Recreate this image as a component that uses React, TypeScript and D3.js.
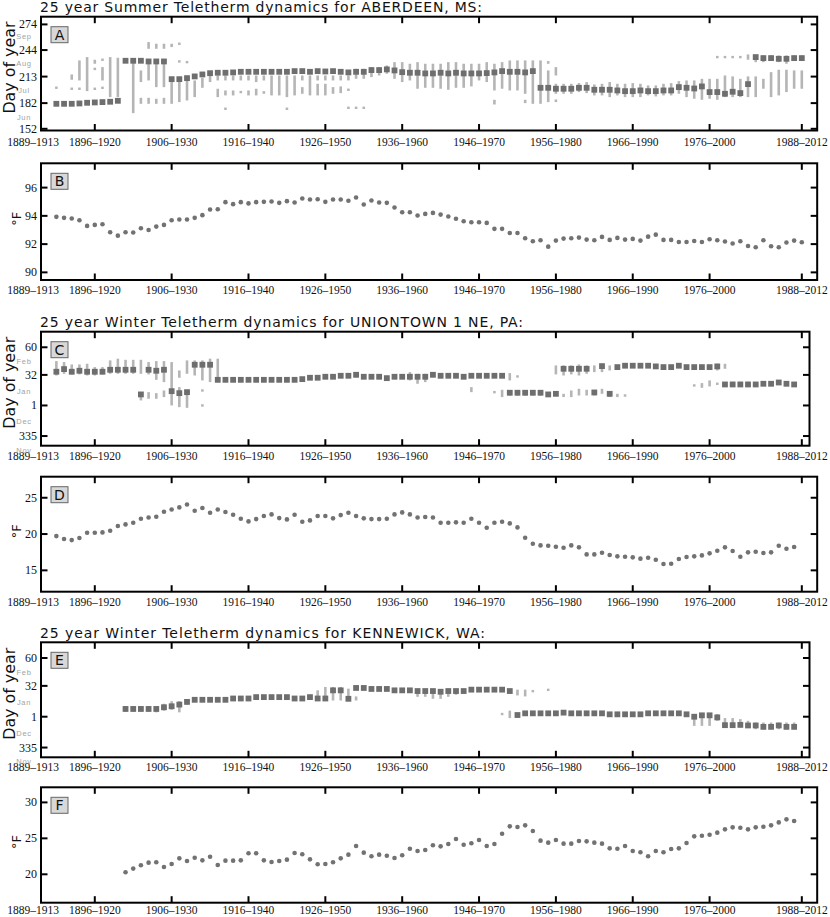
import React from "react";
import * as d3 from "d3";

// ---------- axis categories ----------
const X_START = 1889;
const X_TICK_STARTS = [1889, 1896, 1906, 1916, 1926, 1936, 1946, 1956, 1966, 1976, 1988];
const X_TICK_LABELS = ["1889–1913", "1896–1920", "1906–1930", "1916–1940", "1926–1950", "1936–1960", "1946–1970", "1956–1980", "1966–1990", "1976–2000", "1988–2012"];

const SUMMER_TICKS = [152, 182, 213, 244, 274];
const SUMMER_TICK_LABELS = ["152", "182", "213", "244", "274"];
const SUMMER_MONTHS = ["Jun", "Jul", "Aug", "Sep"];
const SUMMER_MONTH_POS = [166, 197, 229, 260];

const WINTER_TICKS = [-30, 1, 32, 60];
const WINTER_TICK_LABELS = ["335", "1", "32", "60"];
const WINTER_MONTHS = ["Nov", "Dec", "Jan", "Feb"];
const WINTER_MONTH_POS = [-44, -15, 16, 46];

const B_TICKS = [90, 92, 94, 96];
const D_TICKS = [15, 20, 25];
const F_TICKS = [20, 25, 30];

// ---------- A: Aberdeen summer teletherm day (first window 1891) ----------
const A_START = 1891;
const A_DAY = [
  181.2, 181.2, 181.2, 181.6, 182.4, 182.8, 183.2, 183.6, 184.7,
  231.5, 231.5, 231.5, 230.7, 230.7, 230.7,
  210.0, 210.0, 211.2, 213.2, 215.5, 217.0, 217.5, 217.5, 217.9, 218.6,
  218.6, 218.6, 218.6, 218.6, 218.6, 218.6, 219.4, 219.4, 218.6, 219.4,
  219.0, 219.4, 218.6, 217.9, 218.6, 218.6, 220.6, 220.6, 221.4, 220.2,
  218.2, 217.5, 217.5, 216.7, 216.7, 217.5, 216.7, 217.5, 216.7, 216.7,
  216.7, 217.1, 217.9, 219.4, 218.6, 218.6, 217.9, 219.4,
  199.9, 199.9, 198.8, 198.8, 198.8, 199.9, 199.9, 197.6, 197.6, 197.6,
  196.8, 196.0, 196.0, 196.8, 196.0, 196.0, 196.8, 196.8, 200.7, 199.9,
  199.1, 201.5, 194.9, 194.9, 192.9, 195.3, 193.7, 204.2,
  235.8, 234.6, 234.6, 233.8, 233.8, 234.6, 234.6,
];
// [window start, upper day, lower day]
const A_RANGES: [number, number, number][] = [
  [1891, 200.6, 199.4],
  [1893, 215.5, 209.3], [1893, 199.4, 198.2],
  [1894, 231.9, 208.5], [1894, 199.4, 198.2],
  [1895, 235.8, 196.0],
  [1896, 232.7, 228.0], [1896, 222.6, 221.4], [1896, 199.9, 197.6],
  [1897, 233.3, 232.1], [1897, 224.1, 208.5], [1897, 200.5, 199.3],
  [1898, 235.8, 189.0],
  [1899, 235.0, 189.0],
  [1901, 229.9, 170.3],
  [1902, 220.2, 206.6], [1902, 188.2, 181.2],
  [1903, 253.3, 245.5], [1903, 228.0, 208.5], [1903, 188.2, 181.2],
  [1904, 251.4, 245.5], [1904, 228.0, 200.7], [1904, 187.1, 181.2],
  [1905, 251.4, 245.5], [1905, 228.0, 200.7], [1905, 188.2, 181.2],
  [1906, 251.4, 247.5], [1906, 206.6, 181.2],
  [1907, 252.0, 250.8], [1907, 231.3, 230.1], [1907, 206.6, 183.2],
  [1908, 230.5, 229.3], [1908, 208.5, 185.1],
  [1909, 208.5, 189.0],
  [1910, 211.6, 199.9],
  [1911, 214.3, 206.6],
  [1912, 214.3, 208.5], [1912, 198.8, 189.0],
  [1913, 214.3, 208.5], [1913, 196.8, 191.0], [1913, 176.0, 174.8],
  [1914, 214.3, 208.5], [1914, 196.8, 191.0],
  [1915, 214.3, 208.5], [1915, 195.5, 194.3],
  [1916, 214.3, 208.5], [1916, 196.8, 191.0],
  [1917, 214.3, 206.6], [1917, 198.8, 191.0],
  [1918, 214.3, 208.5], [1918, 196.0, 192.9],
  [1919, 214.3, 191.0],
  [1920, 214.3, 191.0],
  [1921, 214.3, 189.0], [1921, 176.0, 174.8],
  [1922, 214.3, 191.0],
  [1923, 214.3, 208.5], [1923, 200.7, 192.9],
  [1924, 214.3, 191.0],
  [1925, 214.3, 208.5], [1925, 204.6, 191.0],
  [1926, 214.3, 208.5], [1926, 204.6, 191.0],
  [1927, 214.3, 208.5], [1927, 200.7, 192.9],
  [1928, 214.3, 208.5], [1928, 201.5, 193.7],
  [1929, 214.3, 208.5], [1929, 198.2, 197.0], [1929, 177.1, 175.9],
  [1930, 222.1, 210.4], [1930, 177.1, 175.9],
  [1931, 222.1, 210.4], [1931, 177.1, 175.9],
  [1932, 224.1, 212.4],
  [1933, 224.1, 214.3],
  [1934, 226.0, 216.3],
  [1935, 229.9, 210.4],
  [1936, 229.9, 206.6],
  [1937, 228.0, 208.5],
  [1938, 229.9, 198.8],
  [1939, 228.0, 199.9],
  [1940, 228.0, 199.9],
  [1941, 228.0, 198.8],
  [1942, 229.9, 197.6],
  [1943, 229.9, 199.9],
  [1944, 228.0, 199.9],
  [1945, 228.0, 201.5],
  [1946, 228.0, 208.5],
  [1947, 229.9, 206.6],
  [1948, 228.0, 196.8], [1948, 185.9, 180.4],
  [1949, 229.9, 198.8],
  [1950, 231.9, 196.8],
  [1951, 231.9, 196.8],
  [1952, 231.9, 192.9], [1952, 185.9, 182.0],
  [1953, 231.9, 181.2],
  [1954, 231.9, 181.2],
  [1955, 231.1, 228.0], [1955, 220.2, 183.2],
  [1956, 224.1, 214.3], [1956, 204.6, 192.9], [1956, 186.3, 183.2],
  [1957, 204.6, 192.9],
  [1958, 204.6, 192.9],
  [1959, 205.4, 194.9],
  [1960, 206.6, 193.7],
  [1961, 203.8, 191.0],
  [1962, 204.6, 191.0],
  [1963, 206.6, 189.0],
  [1964, 204.6, 191.0],
  [1965, 204.6, 189.0],
  [1966, 205.4, 189.0],
  [1967, 204.6, 189.0],
  [1968, 202.7, 191.0],
  [1969, 202.7, 189.8],
  [1970, 204.6, 191.0],
  [1971, 205.4, 191.0],
  [1972, 207.7, 192.9],
  [1973, 208.5, 189.0],
  [1974, 208.5, 187.1],
  [1975, 210.4, 185.9],
  [1976, 210.4, 187.1],
  [1977, 236.4, 235.2], [1977, 210.4, 185.9],
  [1978, 236.4, 235.2], [1978, 214.3, 189.0],
  [1979, 236.4, 235.2], [1979, 213.2, 189.0],
  [1980, 236.4, 235.2], [1980, 210.4, 189.0],
  [1981, 238.9, 232.7], [1981, 213.2, 189.0],
  [1982, 237.7, 229.9], [1982, 213.2, 189.0],
  [1983, 237.7, 229.9], [1983, 210.4, 198.8],
  [1984, 237.7, 231.9], [1984, 218.2, 189.0],
  [1985, 237.7, 229.9], [1985, 221.0, 191.0],
  [1986, 237.7, 228.0], [1986, 221.0, 194.9],
  [1987, 237.7, 231.9], [1987, 220.2, 198.8],
  [1988, 237.7, 231.9], [1988, 220.2, 198.8],
];

// ---------- B: Aberdeen summer teletherm temperature ----------
const B_START = 1891;
const B_TEMP = [
  93.93, 93.86, 93.81, 93.69, 93.29, 93.36, 93.41, 92.84, 92.60, 92.84,
  92.82, 93.12, 93.00, 93.24, 93.36, 93.69, 93.74, 93.74, 93.86, 94.05,
  94.45, 94.47, 94.97, 94.83, 94.97, 94.88, 94.97, 94.99, 95.02, 94.92,
  95.04, 94.95, 95.23, 95.16, 95.18, 94.99, 95.16, 95.16, 95.07, 95.30,
  94.80, 95.09, 94.95, 94.92, 94.59, 94.26, 94.26,
  94.02, 94.14, 94.21, 94.09, 93.95, 93.79, 93.62, 93.55, 93.55, 93.50,
  93.08, 93.08, 92.79, 92.79, 92.41, 92.20, 92.27, 91.82, 92.25, 92.39,
  92.41, 92.46, 92.32, 92.27, 92.51, 92.30, 92.44, 92.32, 92.37, 92.25,
  92.53, 92.67, 92.30, 92.30, 92.15, 92.15, 92.22, 92.15, 92.34, 92.27,
  92.18, 92.04, 92.20, 91.87, 91.78, 92.27, 91.85, 91.78, 92.11, 92.25,
  92.13,
];

// ---------- C: Uniontown winter teletherm day (1 = Jan 1, negative = Dec) ----------
const C_START = 1891;
const C_DAY = [
  35.2, 37.9, 35.2, 36.2, 35.2, 35.2, 35.2, 37.2, 37.2, 37.2,
  37.2, 12.2, 37.2, 36.2, 37.2, 15.5, 13.5, 14.5, 42.3, 42.3,
  42.3, 27.0, 27.0, 27.0, 27.0, 27.0, 27.0, 27.0, 27.0, 27.0,
  27.0, 27.0, 27.7, 29.1, 29.1, 30.1, 30.1, 31.1, 31.1, 32.1,
  30.1, 30.1, 30.1, 28.7, 30.1, 30.1, 30.1, 30.1, 30.1, 32.1,
  31.1, 31.1, 31.1, 30.1, 31.1, 31.1, 31.1, 31.1, 31.1, 13.9,
  13.9, 13.9, 13.9, 13.9, 12.2, 12.8, 38.2, 38.2, 38.2, 38.2,
  14.2, 40.9, 12.8, 39.9, 41.3, 41.3, 41.3, 41.3, 40.6, 39.9,
  39.9, 41.3, 39.9, 39.9, 39.9, 39.9, 40.6, 22.3, 22.3, 22.3,
  22.3, 22.3, 23.0, 23.0, 24.3, 23.0, 22.3,
];
const C_RANGES: [number, number, number][] = [
  [1891, 46.0, 31.4], [1892, 45.0, 33.1], [1893, 42.6, 32.5], [1894, 42.6, 32.5],
  [1895, 43.3, 31.4], [1896, 39.9, 31.4], [1897, 39.9, 32.5], [1898, 46.7, 33.1],
  [1899, 48.4, 33.1], [1900, 47.3, 33.1], [1901, 47.3, 33.1],
  [1902, 47.3, 33.1], [1902, 13.5, 6.1],
  [1903, 45.0, 32.5], [1903, 14.5, 7.8],
  [1904, 46.0, 27.0], [1904, 13.5, 7.8],
  [1905, 46.0, 24.7], [1905, 16.2, 9.5],
  [1906, 45.0, 1.0],
  [1907, 36.5, 29.1], [1907, 19.6, -0.7],
  [1908, 46.7, 33.1], [1908, 16.2, -1.4],
  [1909, 46.7, 31.4],
  [1910, 46.7, 26.4], [1910, 16.8, 15.6], [1910, 1.6, 0.4],
  [1911, 48.4, 24.7],
  [1912, 48.4, 24.7],
  [1923, 29.5, 25.5], [1926, 32.5, 28.0], [1930, 34.5, 29.5],
  [1934, 31.0, 26.0], [1937, 34.8, 26.4], [1938, 33.1, 23.0], [1939, 33.1, 24.7], [1941, 33.8, 28.7],
  [1945, 19.6, 14.5],
  [1948, 15.1, 13.9],
  [1949, 16.9, 9.5],
  [1950, 33.8, 26.4], [1950, 16.0, 11.0],
  [1951, 31.0, 29.8], [1951, 16.0, 11.0],
  [1952, 16.0, 11.0], [1953, 16.0, 11.0], [1954, 16.0, 11.0],
  [1956, 41.6, 32.5],
  [1957, 41.6, 31.4], [1957, 12.8, 9.5],
  [1958, 41.6, 32.5], [1958, 16.2, 9.5],
  [1959, 42.6, 31.4], [1959, 17.9, 11.1],
  [1960, 41.6, 33.1], [1960, 16.9, 11.1],
  [1961, 41.6, 34.8], [1961, 16.2, 11.1],
  [1962, 43.3, 34.8], [1962, 17.9, 12.8],
  [1963, 41.6, 36.5], [1963, 15.5, 9.5],
  [1964, 12.8, 9.5],
  [1965, 11.7, 10.5],
  [1974, 21.9, 20.7],
  [1975, 23.7, 18.9],
  [1976, 26.4, 20.3],
  [1977, 43.3, 36.5], [1977, 23.6, 22.4],
  [1978, 43.3, 38.2],
  [1979, 25.0, 20.0], [1980, 25.0, 20.0], [1981, 25.0, 20.0], [1982, 24.5, 20.5],
];

// ---------- D: Uniontown winter teletherm temperature ----------
const D_START = 1891;
const D_TEMP = [
  19.72, 19.31, 19.17, 19.45, 20.18, 20.18, 20.23, 20.46, 21.10, 21.33,
  21.56, 22.11, 22.29, 22.39, 23.07, 23.39, 23.67, 24.08, 23.21, 23.58,
  22.94, 23.39, 23.03, 22.66, 22.11, 21.74, 22.06, 22.48, 22.71, 22.20,
  22.02, 22.66, 21.70, 21.88, 22.48, 22.48, 22.16, 22.61, 22.94, 22.48,
  22.16, 22.06, 22.06, 22.11, 22.71, 22.98, 22.71, 22.29, 22.34, 22.29,
  21.56, 21.56, 21.61, 21.56, 22.11, 21.56, 20.87, 21.56, 21.70, 21.47,
  20.92, 19.50, 18.67, 18.44, 18.39, 18.26, 18.12, 18.44, 18.17, 17.20,
  17.20, 17.43, 17.11, 16.93, 16.88, 16.79, 16.61, 16.74, 16.47, 15.87,
  15.92, 16.56, 16.83, 16.93, 17.06, 17.34, 17.71, 18.17, 17.66, 16.88,
  17.48, 17.57, 17.39, 17.48, 18.39, 17.98, 18.21,
];

// ---------- E: Kennewick winter teletherm day ----------
const E_START = 1900;
const E_DAY = [
  8.8, 8.8, 8.8, 8.8, 8.8, 10.5, 11.5, 13.2, 15.9, 18.0,
  18.0, 18.0, 18.0, 18.0, 19.3, 19.3, 19.3, 20.7, 20.7, 20.7,
  20.7, 20.7, 19.3, 19.3, 20.7, 19.3, 19.3, 27.5, 27.5, 19.0,
  29.9, 29.9, 28.9, 28.9, 28.9, 27.5, 27.5, 27.5, 26.8, 26.8,
  26.8, 26.1, 26.8, 26.8, 26.8, 28.2, 28.2, 28.2, 28.2, 28.2,
  26.8, 2.7, 4.4, 4.4, 4.4, 4.4, 4.4, 5.1, 4.4, 4.4,
  4.4, 4.4, 4.4, 3.4, 3.4, 3.4, 3.4, 3.4, 4.4, 4.4,
  4.4, 4.4, 4.4, 3.4, 1.0, 2.4, 2.4, 0.3, -7.5, -7.5,
  -7.2, -7.8, -7.8, -9.2, -9.2, -7.8, -9.2, -9.2,
];
const E_RANGES: [number, number, number][] = [
  [1900, 11.5, 6.0], [1901, 11.5, 6.0], [1902, 11.5, 6.0], [1903, 11.5, 6.0], [1904, 11.5, 5.4],
  [1905, 14.0, 7.0], [1906, 16.6, 8.0], [1907, 16.6, 5.4], [1908, 18.5, 13.0],
  [1925, 27.5, 17.3], [1926, 30.9, 17.3], [1927, 30.9, 17.3], [1928, 30.9, 17.3], [1929, 29.2, 17.3], [1930, 21.4, 17.3],
  [1938, 27.0, 21.0], [1939, 27.0, 21.0], [1940, 27.0, 19.0], [1941, 27.0, 19.0], [1942, 27.0, 21.0], [1943, 27.0, 23.0],
  [1949, 4.2, 3.2],
  [1950, 7.1, -0.4],
  [1951, 28.2, 22.4], [1952, 28.2, 21.4], [1953, 27.3, 26.1], [1955, 28.6, 27.4],
  [1974, 3.7, -8.2], [1975, 3.7, -8.2], [1976, 3.7, -8.2], [1977, 3.7, -3.1],
  [1978, -0.4, -9.9], [1979, -0.4, -9.9], [1980, -1.4, -9.9], [1981, -3.1, -9.9],
  [1982, -4.8, -11.6], [1983, -4.8, -11.6], [1984, -4.8, -11.6], [1985, -4.8, -11.6], [1986, -4.8, -11.6], [1987, -4.8, -11.6],
];

// ---------- F: Kennewick winter teletherm temperature ----------
const F_START = 1900;
const F_TEMP = [
  20.28, 20.79, 21.25, 21.62, 21.67, 21.02, 21.44, 22.22, 21.85, 22.31,
  21.94, 22.45, 21.30, 21.90, 21.90, 21.94, 22.92, 22.92, 21.94, 21.71,
  21.85, 22.04, 22.96, 22.78, 22.08, 21.39, 21.44, 21.67, 22.22, 22.73,
  23.94, 23.01, 22.50, 22.73, 22.59, 22.27, 22.64, 23.56, 23.24, 23.38,
  24.03, 23.89, 24.21, 24.91, 24.12, 24.31, 24.77, 23.94, 24.21, 25.65,
  26.67, 26.57, 26.81, 26.02, 24.68, 24.40, 24.77, 24.26, 24.26, 24.63,
  24.58, 24.40, 24.26, 23.61, 23.56, 23.94, 23.24, 23.06, 22.50, 23.24,
  23.06, 23.52, 23.61, 24.35, 25.28, 25.37, 25.51, 25.79, 26.25, 26.53,
  26.48, 26.25, 26.53, 26.62, 26.81, 27.22, 27.64, 27.41,
];

// ---------- layout ----------
const LEFT = 41;
const PX_YEAR = 7.685;
const SANS = "'DejaVu Sans', sans-serif";
const SERIF = "'Liberation Serif', 'Times New Roman', serif";

type Panel = {
  letter: string;
  title?: string;
  titleLen?: number;
  top: number;
  bottom: number;
  labelDy: number;
  xEnd: number;
  yDomain: [number, number];
  ticks: number[];
  tickLabels: string[];
  months?: string[];
  monthPos?: number[];
  kind: "day" | "temp";
  start: number;
  values: number[];
  ranges?: [number, number, number][];
};

const PANELS: Panel[] = [
  { letter: "A", title: "25 year Summer Teletherm dynamics for ABERDEEN, MS:", titleLen: 442, top: 16.7, bottom: 130.5, labelDy: 15, xEnd: 1990, yDomain: [150, 283], ticks: SUMMER_TICKS, tickLabels: SUMMER_TICK_LABELS, months: SUMMER_MONTHS, monthPos: SUMMER_MONTH_POS, kind: "day", start: A_START, values: A_DAY, ranges: A_RANGES },
  { letter: "B", top: 163.3, bottom: 280, labelDy: 14, xEnd: 1990, yDomain: [89.46, 97.72], ticks: B_TICKS, tickLabels: B_TICKS.map(String), kind: "temp", start: B_START, values: B_TEMP },
  { letter: "C", title: "25 year Winter Teletherm dynamics for UNIONTOWN 1 NE, PA:", titleLen: 483, top: 331.7, bottom: 445.7, labelDy: 14, xEnd: 1989, yDomain: [-39.8, 75.8], ticks: WINTER_TICKS, tickLabels: WINTER_TICK_LABELS, months: WINTER_MONTHS, monthPos: WINTER_MONTH_POS, kind: "day", start: C_START, values: C_DAY, ranges: C_RANGES },
  { letter: "D", top: 476.7, bottom: 591.7, labelDy: 14.5, xEnd: 1990, yDomain: [12.06, 27.9], ticks: D_TICKS, tickLabels: D_TICKS.map(String), kind: "temp", start: D_START, values: D_TEMP },
  { letter: "E", title: "25 year Winter Teletherm dynamics for KENNEWICK, WA:", titleLen: 445, top: 642.3, bottom: 757.3, labelDy: 13.5, xEnd: 1989, yDomain: [-39.8, 75.8], ticks: WINTER_TICKS, tickLabels: WINTER_TICK_LABELS, months: WINTER_MONTHS, monthPos: WINTER_MONTH_POS, kind: "day", start: E_START, values: E_DAY, ranges: E_RANGES },
  { letter: "F", top: 787.3, bottom: 902.7, labelDy: 10.8, xEnd: 1990, yDomain: [16.05, 32.1], ticks: F_TICKS, tickLabels: F_TICKS.map(String), kind: "temp", start: F_START, values: F_TEMP },
];

function PanelView({ p }: { p: Panel }) {
  const x = d3.scaleLinear().domain([X_START, p.xEnd]).range([LEFT, LEFT + (p.xEnd - X_START) * PX_YEAR]);
  const y = d3.scaleLinear().domain(p.yDomain).range([p.bottom, p.top]);
  const right = x(p.xEnd);
  const cy = (p.top + p.bottom) / 2;
  const TL = 6.5;
  const sq = 5.8;
  return (
    <g>
      {p.title && (
        <text x={LEFT - 1} y={p.top - 4.8} fontFamily={SANS} fontSize={14} textLength={p.titleLen} lengthAdjust="spacing" fill="#111">
          {p.title}
        </text>
      )}
      {/* gray alternative-day bars */}
      {p.ranges?.map(([yr, hi, lo], i) => {
        let y1 = y(hi), y2 = y(lo);
        if (y2 - y1 < 2.4) { const m = (y1 + y2) / 2; y1 = m - 1.2; y2 = m + 1.2; }
        return <line key={"r" + i} x1={x(yr)} x2={x(yr)} y1={y1} y2={y2} stroke="#b5b5b5" strokeWidth={2.6} />;
      })}
      {/* main marks */}
      {p.values.map((v, i) => {
        const cx = x(p.start + i);
        return p.kind === "day" ? (
          <rect key={"m" + i} x={cx - sq / 2} y={y(v) - sq / 2} width={sq} height={sq} fill="#6e6e6e" />
        ) : (
          <circle key={"m" + i} cx={cx} cy={y(v)} r={2.3} fill="#727272" />
        );
      })}
      {/* frame */}
      <rect x={LEFT} y={p.top} width={right - LEFT} height={p.bottom - p.top} fill="none" stroke="#000" strokeWidth={2} />
      {/* x ticks */}
      {X_TICK_STARTS.map((s, i) => (
        <g key={"xt" + i}>
          <line x1={x(s)} x2={x(s)} y1={p.top} y2={p.top + TL} stroke="#000" strokeWidth={2} />
          <line x1={x(s)} x2={x(s)} y1={p.bottom} y2={p.bottom - TL} stroke="#000" strokeWidth={2} />
          <text x={i === 0 ? x(s) - 8 : x(s)} y={p.bottom + p.labelDy} textAnchor="middle" fontFamily={SERIF} fontSize={11.5} fill="#111">
            {X_TICK_LABELS[i]}
          </text>
        </g>
      ))}
      {/* y ticks */}
      {p.ticks.map((t, i) => (
        <g key={"yt" + i}>
          <line x1={LEFT} x2={LEFT + TL} y1={y(t)} y2={y(t)} stroke="#000" strokeWidth={2} />
          <line x1={right} x2={right - TL} y1={y(t)} y2={y(t)} stroke="#000" strokeWidth={2} />
          <text x={LEFT - 4} y={y(t) + 4} textAnchor="end" fontFamily={SERIF} fontSize={12} fill="#111">
            {p.tickLabels[i]}
          </text>
        </g>
      ))}
      {/* month labels */}
      {p.months?.map((m, i) => (
        <text key={"mo" + i} x={24} y={y(p.monthPos![i]) + 3} textAnchor="middle" fontFamily="'Liberation Sans', sans-serif" fontSize={7.5} letterSpacing={0.7} fill="#a3a3a3">
          {m}
        </text>
      ))}
      {/* panel letter */}
      <rect x={51} y={p.top + 10} width={17} height={16} fill="#d8d8d8" stroke="#666" strokeWidth={1} />
      <text x={59.5} y={p.top + 23} textAnchor="middle" fontFamily={SANS} fontSize={14} fill="#111">
        {p.letter}
      </text>
      {/* axis label */}
      {p.kind === "day" ? (
        <text transform={`translate(14.5,${cy - 6}) rotate(-90)`} textAnchor="middle" fontFamily={SANS} fontSize={15} textLength={92} lengthAdjust="spacingAndGlyphs" fill="#111">
          Day of year
        </text>
      ) : (
        <text transform={`translate(21,${cy - 3}) rotate(-90)`} textAnchor="middle" fontFamily={SANS} fontSize={13} fill="#111">
          °F
        </text>
      )}
    </g>
  );
}

export default function App() {
  return (
    <svg width={830} height={917} style={{ position: "absolute", left: 0, top: 0, display: "block" }}>
      <rect width={830} height={917} fill="#fff" />
      {PANELS.map((p) => (
        <PanelView key={p.letter} p={p} />
      ))}
    </svg>
  );
}
